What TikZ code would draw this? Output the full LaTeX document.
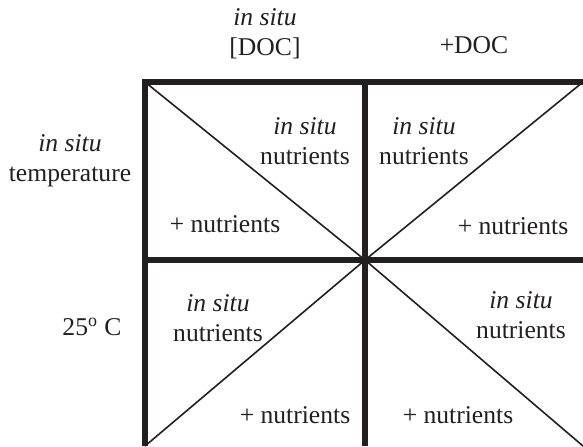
\documentclass[tikz,border=0pt]{standalone}
\usepackage{fontspec}
\setmainfont{Liberation Serif}
\usetikzlibrary{positioning}
\definecolor{Ink}{HTML}{231F20}
\newcommand{\InSitu}{\textit{in situ}}

\begin{document}
\begin{tikzpicture}[x=0.5pt,y=-0.5pt,
  gridline/.style={Ink,line width=2.6pt},
  diagline/.style={Ink,line width=0.8pt},
  lbl/.style={inner sep=0pt,align=center,text=Ink,font=\fontsize{12.8}{15}\selectfont}]
\useasboundingbox (0,0) rectangle (583,446);
% grid corners
\coordinate (NW) at (145,82);
\coordinate (N) at (365,82);
\coordinate (NE) at (583,82);
\coordinate (W) at (145,260);
\coordinate (C) at (365,260);
\coordinate (E) at (583,260);
\coordinate (SW) at (145,446);
\coordinate (S) at (365,446);
\coordinate (SE) at (583,446);
\foreach \a in {NW,NE,SW,SE} {
  \draw[diagline] (\a) -- (C);
}
\draw[gridline] (SW) -- (NW) -- (NE);
\draw[gridline] (N) -- (S);
\draw[gridline] (W) -- (E);
% column and row heads
\node[lbl] (colInSitu) at (265,34) {\InSitu\\{[DOC]}};
\node[lbl] (colDOC) at (474,45) {+DOC};
\node[lbl] (rowInSitu) at (70,161) {\InSitu\\temperature};
\node[lbl] (rowWarm) at (92,327) {25\textsuperscript{o} C};
% cell labels
\node[lbl] (tlInSitu) at (305,141) {\InSitu\\nutrients};
\node[lbl] (tlPlus) at (225,224) {+ nutrients};
\node[lbl] (trInSitu) at (424,141) {\InSitu\\nutrients};
\node[lbl] (trPlus) at (513,226) {+ nutrients};
\node[lbl] (blInSitu) at (218,318) {\InSitu\\nutrients};
\node[lbl] (blPlus) at (295,415) {+ nutrients};
\node[lbl] (brInSitu) at (521,315) {\InSitu\\nutrients};
\node[lbl] (brPlus) at (458,415) {+ nutrients};
\end{tikzpicture}
\end{document}
